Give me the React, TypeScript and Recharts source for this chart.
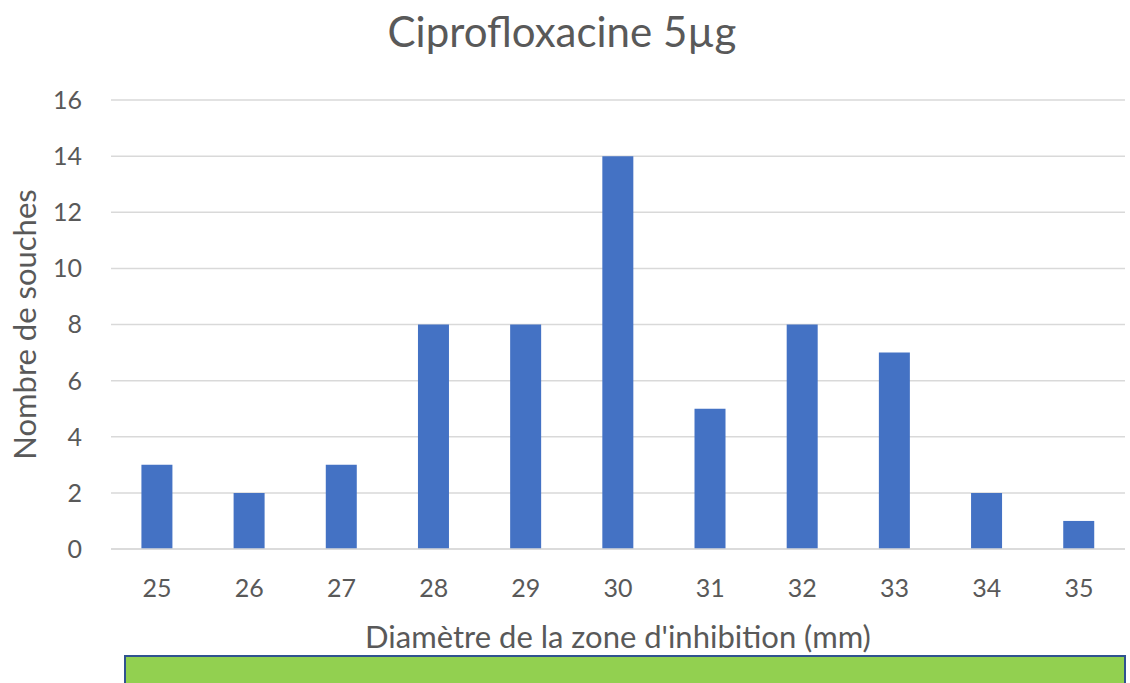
import { BarChart, Bar, XAxis, YAxis, CartesianGrid, Label } from "recharts";

const diameters = ["25", "26", "27", "28", "29", "30", "31", "32", "33", "34", "35"];
const souches = [3, 2, 3, 8, 8, 14, 5, 8, 7, 2, 1];
const yTicks = [0, 2, 4, 6, 8, 10, 12, 14, 16];

const data = diameters.map((d, i) => ({ diametre: d, souches: souches[i] }));

const FONT = "Lato, 'Open Sans', sans-serif";
const TEXT = "#595959";

export default function App() {
  return (
    <div
      style={{
        position: "absolute",
        left: 0,
        top: 0,
        width: 1130,
        height: 683,
        overflow: "hidden",
        background: "#fff",
        fontFamily: FONT,
      }}
    >
      <div
        style={{
          position: "absolute",
          top: 10,
          left: -3,
          width: 1130,
          textAlign: "center",
          fontSize: 42,
          lineHeight: 1,
          color: TEXT,
        }}
      >
        Ciprofloxacine 5µg
      </div>
      <BarChart
        width={1130}
        height={683}
        data={data}
        margin={{ top: 100, right: 5, bottom: 94, left: 51 }}
        barCategoryGap="33%"
      >
        <CartesianGrid vertical={false} stroke="#D9D9D9" strokeWidth={1.5} />
        <XAxis
          dataKey="diametre"
          height={40}
          tickLine={false}
          tickSize={0}
          tickMargin={30}
          axisLine={{ stroke: "#D9D9D9", strokeWidth: 1.5 }}
          tick={{ fontSize: 25, fill: TEXT, fontFamily: FONT }}
        >
          <Label
            value="Diamètre de la zone d'inhibition (mm)"
            position="bottom"
            offset={37}
            style={{ fontSize: 31, fill: TEXT, fontFamily: FONT }}
          />
        </XAxis>
        <YAxis
          width={60}
          domain={[0, 16]}
          ticks={yTicks}
          tickLine={false}
          axisLine={false}
          tickSize={0}
          tickMargin={29}
          tick={{ fontSize: 25, fill: TEXT, fontFamily: FONT }}
        >
          <Label
            value="Nombre de souches"
            angle={-90}
            position="insideLeft"
            offset={-26}
            style={{ fontSize: 31, fill: TEXT, fontFamily: FONT, textAnchor: "middle" }}
          />
        </YAxis>
        <Bar dataKey="souches" fill="#4472C4" isAnimationActive={false} />
      </BarChart>
      <div
        style={{
          position: "absolute",
          left: 124,
          top: 655,
          width: 998,
          height: 40,
          background: "#92D050",
          border: "2px solid #2F528F",
        }}
      />
    </div>
  );
}
